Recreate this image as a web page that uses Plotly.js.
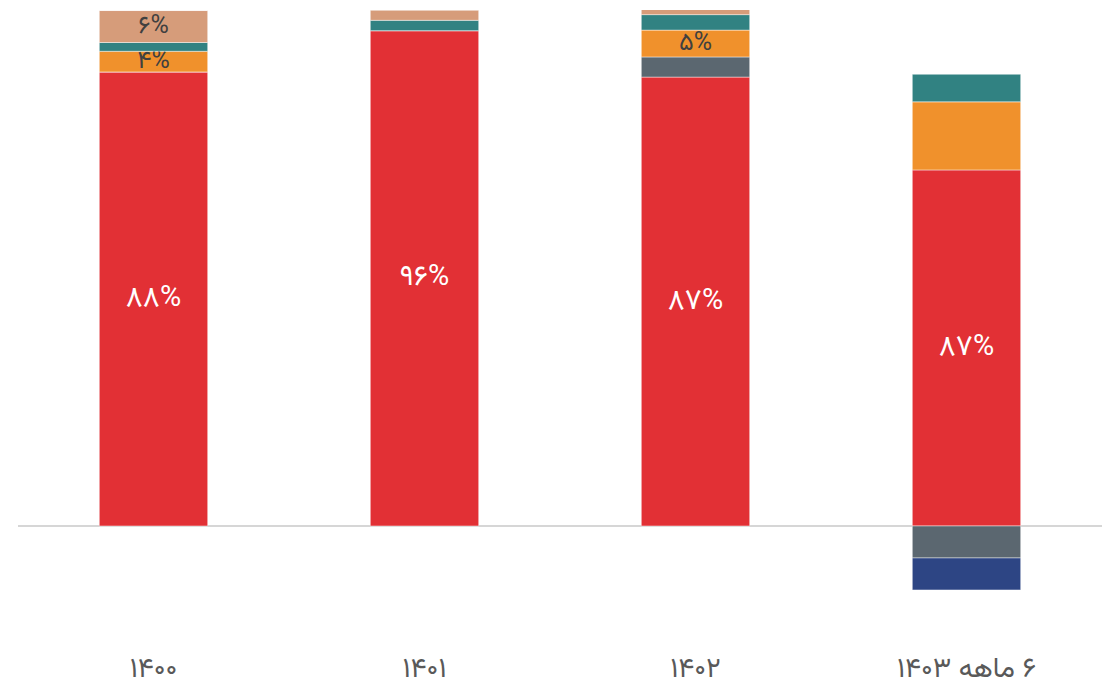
<!DOCTYPE html>
<html>
<head>
<meta charset="utf-8">
<script src="https://cdn.plot.ly/plotly-3.0.1.min.js"></script>
<style>html,body{margin:0;padding:0;background:#fff;}#chart{width:1119px;height:691px;}</style>
</head>
<body>
<div id="chart"></div>
<script>
const categories = ['۱۴۰۰', '۱۴۰۱', '۱۴۰۲', '\u202B۶ ماهه ۱۴۰۳\u202C'];
const redVals = [88, 96, 87, 69];
const greyVals = [0, 0, 3.9, -6.2];
const orangeVals = [4, 0, 5.2, 13.2];
const tealVals = [1.7, 2, 3, 5.4];
const tanVals = [6.2, 2, 1.1, 0];
const navyVals = [0, 0, 0, -6.2];
const redLabels = ['۸۸%', '۹۶%', '۸۷%', '۸۷%'];
const orangeLabels = ['۴%', '', '۵%', ''];
const tanLabels = ['۶%', '', '', ''];

const FONT = 'Vazirmatn, "DejaVu Sans", sans-serif';
function tr(vals, color, labels, textColor, size) {
  return {
    type: 'bar', x: categories, y: vals,
    marker: {color: color, line: {color: 'rgba(255,255,255,0.45)', width: 1}},
    text: labels || null,
    textposition: labels ? 'inside' : 'none',
    insidetextanchor: 'middle',
    constraintext: 'none',
    textangle: 0,
    textfont: {family: FONT, size: size || 29, color: textColor || '#404040'},
    hoverinfo: 'skip', showlegend: false
  };
}
const data = [
  tr(redVals, '#E23035', redLabels, '#ffffff', 29),
  tr(greyVals, '#5B6770'),
  tr(orangeVals, '#F0912C', orangeLabels, '#404040', 25),
  tr(tealVals, '#318282'),
  tr(tanVals, '#D69C7A', tanLabels, '#404040', 25),
  tr(navyVals, '#2D4584')
];
const layout = {
  width: 1119, height: 691,
  margin: {l: 18, r: 17, t: 10, b: 43},
  paper_bgcolor: '#fff', plot_bgcolor: '#fff',
  barmode: 'relative', bargap: 0.6,
  font: {family: FONT},
  xaxis: {showgrid: false, zeroline: false, showline: false, ticks: '',
          tickfont: {family: FONT, size: 28, color: '#595959'}},
  yaxis: {range: [-23.65, 100], showgrid: false, showticklabels: false, ticks: '',
          zeroline: true, zerolinecolor: '#d6d6d6', zerolinewidth: 2},
  showlegend: false
};
Plotly.newPlot('chart', data, layout, {displayModeBar: false, staticPlot: true});
</script>
</body>
</html>
